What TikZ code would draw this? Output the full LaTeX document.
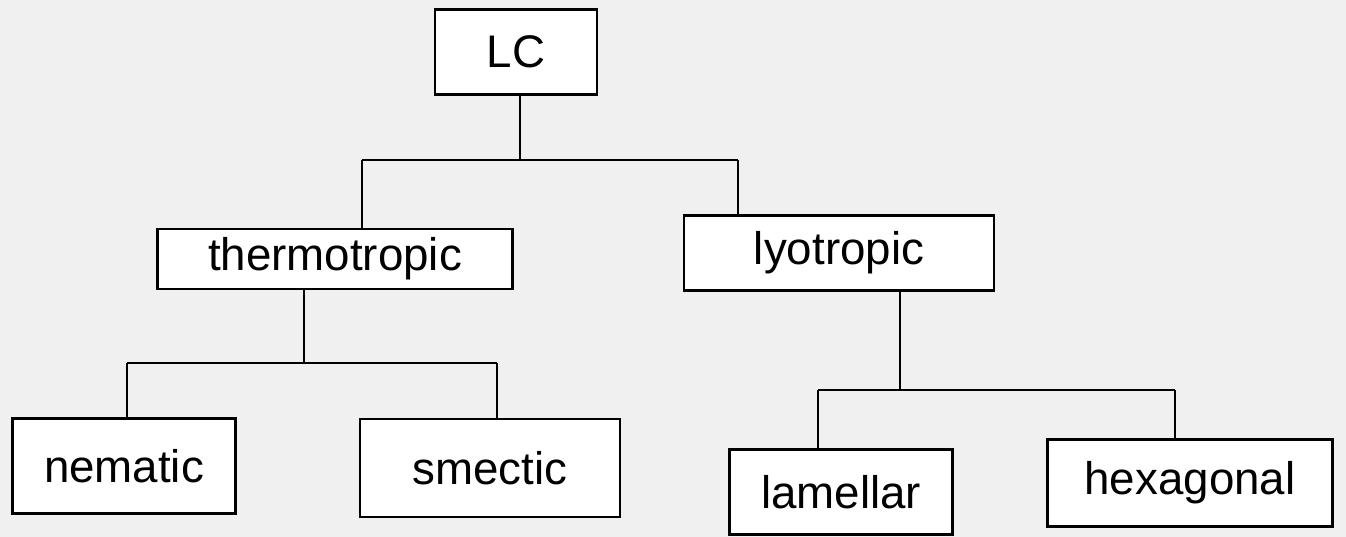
\documentclass[tikz,border=0pt]{standalone}
\usepackage{fontspec}
\setmainfont{Liberation Sans}
\begin{document}
\begin{tikzpicture}[x=0.02cm,y=-0.02cm,
  box/.style={draw=black,line width=1.4pt,fill=white,inner sep=0pt,anchor=center,
    font=\fontsize{26}{30}\selectfont},
  conn/.style={draw=black,line width=1.4pt}]
\fill[white!94!black] (0,0) rectangle (1346,537);
\useasboundingbox (0,0) rectangle (1346,537);
% nodes
\node[box,minimum width=3.24cm,minimum height=1.7cm] (lc) at (516,52) {LC};
\node[box,minimum width=7.1cm,minimum height=1.2cm] (thermo) at (335,259) {thermotropic};
\node[box,minimum width=6.2cm,minimum height=1.5cm] (lyo) at (839,253) {lyotropic};
\node[box,minimum width=4.46cm,minimum height=1.9cm] (nem) at (124,466) {nematic};
\node[box,minimum width=5.2cm,minimum height=1.96cm] (sme) at (490,468) {smectic};
\node[box,minimum width=4.46cm,minimum height=1.7cm] (lam) at (841,492) {lamellar};
\node[box,minimum width=5.7cm,minimum height=1.74cm] (hex) at (1190,483) {hexagonal};
% bar coordinates
\coordinate (a) at (520,160);
\coordinate (al) at (362,160);
\coordinate (ar) at (738,160);
\coordinate (b) at (304,363);
\coordinate (bl) at (127,363);
\coordinate (br) at (497,363);
\coordinate (c) at (900,390);
\coordinate (cl) at (818,390);
\coordinate (cr) at (1175,390);
% connectors
\draw[conn] (lc.south -| a) -- (a);
\draw[conn] (al) -- (ar);
\draw[conn] (al) -- (al |- thermo.north);
\draw[conn] (ar) -- (ar |- lyo.north);
\draw[conn] (thermo.south -| b) -- (b);
\draw[conn] (bl) -- (br);
\draw[conn] (bl) -- (bl |- nem.north);
\draw[conn] (br) -- (br |- sme.north);
\draw[conn] (lyo.south -| c) -- (c);
\draw[conn] (cl) -- (cr);
\draw[conn] (cl) -- (cl |- lam.north);
\draw[conn] (cr) -- (cr |- hex.north);
\end{tikzpicture}
\end{document}
